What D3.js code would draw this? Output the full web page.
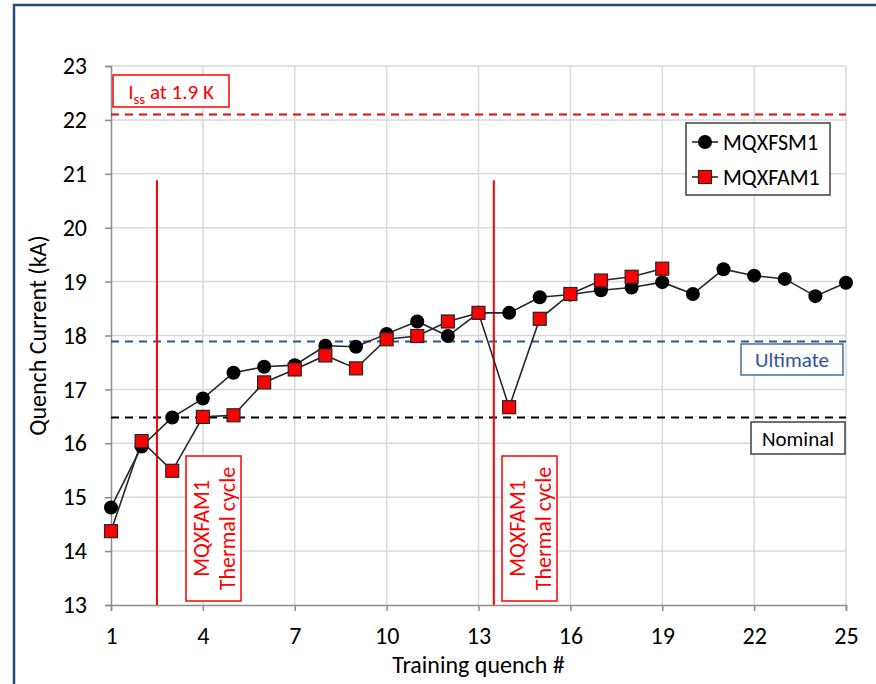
<!DOCTYPE html>
<html>
<head>
<meta charset="utf-8">
<script src="https://cdn.jsdelivr.net/npm/d3@7"></script>
<style>
  html, body { margin: 0; padding: 0; background: #fff; }
  svg { display: block; font-family: Carlito, Calibri, Lato, "Open Sans", sans-serif; }
</style>
</head>
<body>
<svg id="chart" width="876" height="684"></svg>
<script>
// Training quench number for each series
const quenchFSM = [1,2,3,4,5,6,7,8,9,10,11,12,13,14,15,16,17,18,19,20,21,22,23,24,25];
const currentFSM = [14.81,15.94,16.48,16.83,17.31,17.42,17.45,17.81,17.79,18.03,18.26,17.99,18.42,18.42,18.71,18.76,18.84,18.89,18.99,18.77,19.23,19.11,19.05,18.73,18.98];
const quenchFAM = [1,2,3,4,5,6,7,8,9,10,11,12,13,14,15,16,17,18,19];
const currentFAM = [14.37,16.04,15.49,16.49,16.52,17.13,17.37,17.63,17.39,17.93,17.99,18.26,18.42,16.67,18.31,18.77,19.02,19.09,19.24];

// Reference current levels (kA)
const issLevel = 22.1;
const ultimateLevel = 17.89;
const nominalLevel = 16.48;

// Thermal cycles of MQXFAM1 (between quenches)
const thermalCycles = [2.5, 13.5];
const thermalLineTop = 20.88;

const xTicks = [1,4,7,10,13,16,19,22,25];
const yTicks = [13,14,15,16,17,18,19,20,21,22,23];

const FONT = "Carlito, Calibri, Lato, 'Open Sans', sans-serif";
const svg = d3.select("#chart");

// outer frame
svg.append("rect")
  .attr("x", 14).attr("y", 5)
  .attr("width", 900).attr("height", 720)
  .attr("fill", "none")
  .attr("stroke", "#1f4e79").attr("stroke-width", 2.5);

const x = d3.scaleLinear().domain([1, 25]).range([111, 846]);
const y = d3.scaleLinear().domain([13, 23]).range([605, 66]);

// gridlines
svg.append("g").selectAll("line").data(yTicks.slice(1)).join("line")
  .attr("x1", x(1)).attr("x2", x(25))
  .attr("y1", d => y(d)).attr("y2", d => y(d))
  .attr("stroke", "#d9d9d9").attr("stroke-width", 1.5);
svg.append("g").selectAll("line").data(xTicks.slice(1)).join("line")
  .attr("x1", d => x(d)).attr("x2", d => x(d))
  .attr("y1", y(13)).attr("y2", y(23))
  .attr("stroke", "#d9d9d9").attr("stroke-width", 1.5);

// axes
const yAxis = svg.append("g")
  .attr("transform", `translate(${x(1)},0)`)
  .call(d3.axisLeft(y).tickValues(yTicks).tickSize(6).tickPadding(18).tickFormat(d3.format("d")));
const xAxis = svg.append("g")
  .attr("transform", `translate(0,${y(13)})`)
  .call(d3.axisBottom(x).tickValues(xTicks).tickSize(6).tickPadding(16).tickFormat(d3.format("d")));
[yAxis, xAxis].forEach(a => {
  a.select(".domain").attr("stroke", "#8c8c8c").attr("stroke-width", 1.5);
  a.selectAll(".tick line").attr("stroke", "#8c8c8c").attr("stroke-width", 1.5);
  a.selectAll(".tick text").attr("fill", "#000").style("font-size", "24px")
    .style("font-family", FONT);
});

// axis titles
svg.append("text")
  .attr("x", x(13)).attr("y", 673)
  .attr("text-anchor", "middle")
  .style("font-size", "24px").attr("fill", "#000")
  .text("Training quench #");
svg.append("text")
  .attr("transform", `translate(46,${y(18)}) rotate(-90)`)
  .attr("text-anchor", "middle")
  .style("font-size", "24px").attr("fill", "#000")
  .text("Quench Current (kA)");

// reference levels
const levels = [
  { v: issLevel, color: "#ff0000" },
  { v: ultimateLevel, color: "#2f5597" },
  { v: nominalLevel, color: "#000000" }
];
svg.append("g").selectAll("line").data(levels).join("line")
  .attr("x1", x(1)).attr("x2", x(25))
  .attr("y1", d => y(d.v)).attr("y2", d => y(d.v))
  .attr("stroke", d => d.color).attr("stroke-width", 2)
  .attr("stroke-dasharray", "8,6");

// thermal cycle markers
svg.append("g").selectAll("line").data(thermalCycles).join("line")
  .attr("x1", d => x(d)).attr("x2", d => x(d))
  .attr("y1", y(thermalLineTop)).attr("y2", y(13))
  .attr("stroke", "#ff0000").attr("stroke-width", 2);

// series
const line = d3.line().x(d => x(d[0])).y(d => y(d[1]));
const fsm = quenchFSM.map((q, i) => [q, currentFSM[i]]);
const fam = quenchFAM.map((q, i) => [q, currentFAM[i]]);

svg.append("path").datum(fam).attr("d", line)
  .attr("fill", "none").attr("stroke", "#262626").attr("stroke-width", 1.6);
svg.append("path").datum(fsm).attr("d", line)
  .attr("fill", "none").attr("stroke", "#262626").attr("stroke-width", 1.6);

svg.append("g").selectAll("circle").data(fsm).join("circle")
  .attr("cx", d => x(d[0])).attr("cy", d => y(d[1])).attr("r", 7)
  .attr("fill", "#000");
const sq = 13;
svg.append("g").selectAll("rect").data(fam).join("rect")
  .attr("x", d => x(d[0]) - sq / 2).attr("y", d => y(d[1]) - sq / 2)
  .attr("width", sq).attr("height", sq)
  .attr("fill", "#ff0000").attr("stroke", "#262626").attr("stroke-width", 1.2);

// labelled boxes
function boxLabel(bx, by, bw, bh, stroke, color, text, size) {
  svg.append("rect").attr("x", bx).attr("y", by).attr("width", bw).attr("height", bh)
    .attr("fill", "#fff").attr("stroke", stroke).attr("stroke-width", 1.5);
  return svg.append("text").attr("x", bx + bw / 2).attr("y", by + bh / 2 + size * 0.36)
    .attr("text-anchor", "middle").style("font-size", size + "px").attr("fill", color)
    .text(text);
}

// Iss label with subscript
svg.append("rect").attr("x", 113).attr("y", 75).attr("width", 116).attr("height", 32)
  .attr("fill", "#fff").attr("stroke", "#ff0000").attr("stroke-width", 1.5);
const iss = svg.append("text").attr("x", 171).attr("y", 99)
  .attr("text-anchor", "middle").style("font-size", "21px").attr("fill", "#ff0000");
iss.append("tspan").text("I");
iss.append("tspan").attr("dy", 5).style("font-size", "15px").text("ss");
iss.append("tspan").attr("dy", -5).text(" at 1.9 K");

boxLabel(741, 344, 102, 31, "#41719c", "#2f5597", "Ultimate", 21);
boxLabel(751, 422, 94, 32, "#404040", "#000", "Nominal", 21);

// thermal cycle notes (rotated)
[[186, 241], [502, 557]].forEach(([x0, x1]) => {
  svg.append("rect").attr("x", x0).attr("y", 456).attr("width", x1 - x0).attr("height", 145)
    .attr("fill", "#fff").attr("stroke", "#ff0000").attr("stroke-width", 1.5);
  const cx = (x0 + x1) / 2, cy = 528.5;
  const g = svg.append("g").attr("transform", `translate(${cx},${cy}) rotate(-90)`);
  g.append("text").attr("x", 0).attr("y", -5).attr("text-anchor", "middle")
    .style("font-size", "22px").attr("fill", "#ff0000").text("MQXFAM1");
  g.append("text").attr("x", 0).attr("y", 21).attr("text-anchor", "middle")
    .style("font-size", "22px").attr("fill", "#ff0000").text("Thermal cycle");
});

// legend
svg.append("rect").attr("x", 686).attr("y", 123).attr("width", 144).attr("height", 72)
  .attr("fill", "#fff").attr("stroke", "#404040").attr("stroke-width", 1.5);
const legendItems = [
  { name: "MQXFSM1", kind: "circle", yy: 142 },
  { name: "MQXFAM1", kind: "square", yy: 177 }
];
legendItems.forEach(it => {
  svg.append("line").attr("x1", 692).attr("x2", 718).attr("y1", it.yy).attr("y2", it.yy)
    .attr("stroke", "#262626").attr("stroke-width", 1.6);
  if (it.kind === "circle") {
    svg.append("circle").attr("cx", 705).attr("cy", it.yy).attr("r", 7).attr("fill", "#000");
  } else {
    svg.append("rect").attr("x", 705 - sq / 2).attr("y", it.yy - sq / 2)
      .attr("width", sq).attr("height", sq)
      .attr("fill", "#ff0000").attr("stroke", "#262626").attr("stroke-width", 1.2);
  }
  svg.append("text").attr("x", 723).attr("y", it.yy + 8)
    .style("font-size", "22px").attr("fill", "#000").text(it.name);
});
</script>
</body>
</html>
